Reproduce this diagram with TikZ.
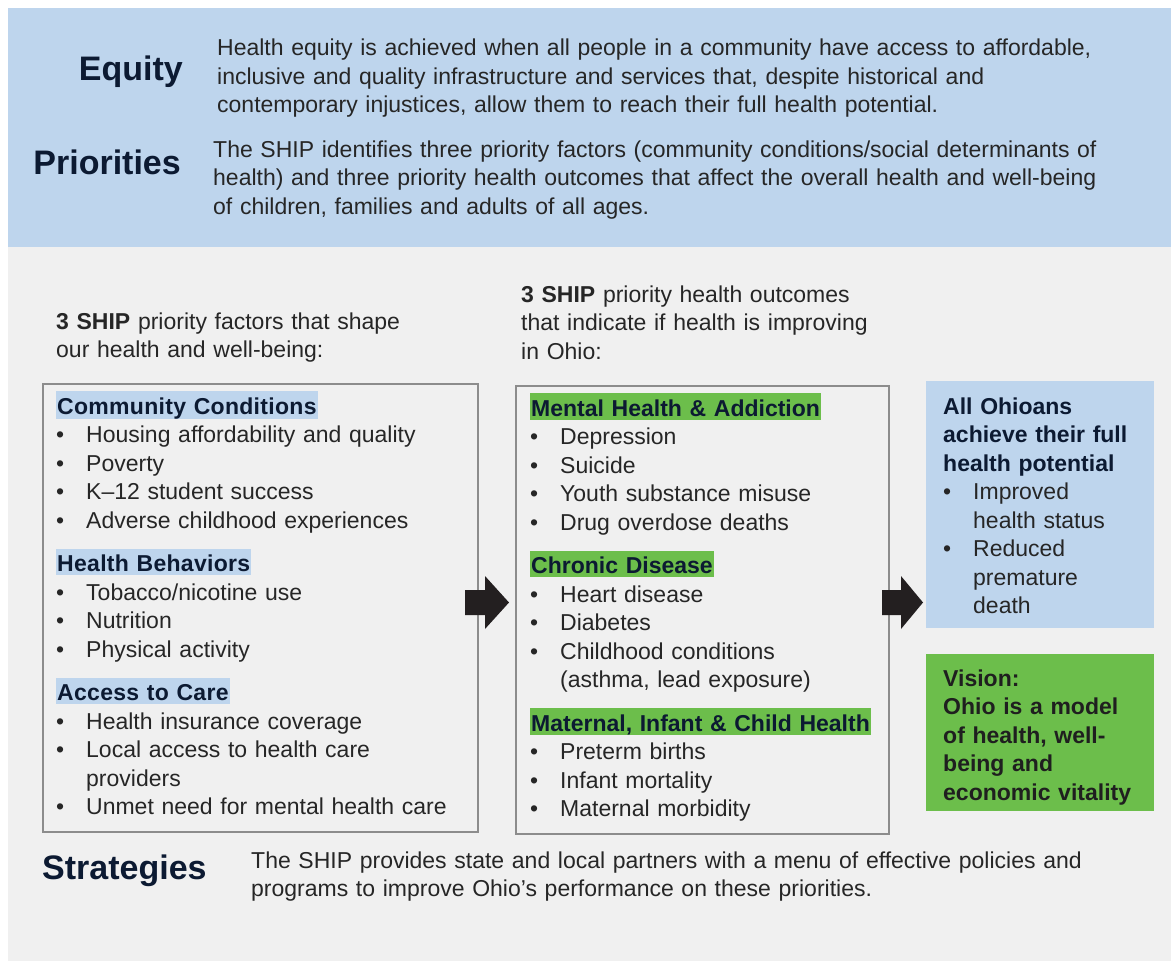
\documentclass[tikz,border=0pt]{standalone}
\usepackage{fontspec}
\setmainfont{Liberation Sans}
\usetikzlibrary{positioning}
\definecolor{bandblue}{RGB}{190,213,237}
\definecolor{panelgray}{RGB}{240,240,240}
\definecolor{leafgreen}{RGB}{108,190,75}
\definecolor{navy}{RGB}{12,26,50}
\definecolor{inkgray}{RGB}{38,38,38}
\definecolor{rulegray}{RGB}{140,140,140}
\definecolor{arrowink}{RGB}{35,31,32}
\newcommand{\bluetag}[1]{{\setlength{\fboxsep}{0pt}\colorbox{bandblue}{\rule[-3.5pt]{0pt}{26.5pt}\hspace{1pt}\textcolor{navy}{\bfseries\addfontfeature{LetterSpace=1.3}#1}\hspace{1pt}}}}
\newcommand{\greentag}[1]{{\setlength{\fboxsep}{0pt}\colorbox{leafgreen}{\rule[-3.5pt]{0pt}{26.5pt}\hspace{1pt}\textcolor{navy}{\bfseries #1}\hspace{1pt}}}}
\newcommand{\bitem}{\makebox[30pt][l]{\textbullet}}
\begin{document}
\begin{tikzpicture}[x=1pt, y=-1pt,
  body/.style={font=\fontsize{23}{28.5}\selectfont, text=inkgray, inner sep=0pt, align=left, text width=#1, anchor=base west},
  body/.default=940pt,
  heading/.style={font=\fontsize{34}{40}\selectfont\bfseries, text=navy, inner sep=0pt},
  frame/.style={draw=rulegray, line width=1.5pt, inner sep=0pt, anchor=north west},
  panel/.style={inner sep=0pt, anchor=north west}]
  \useasboundingbox[fill=white] (0,0) rectangle (1171,961);
  \fill[bandblue] (8,8) rectangle (1171,247);
  \fill[panelgray] (8,247) rectangle (1171,961);

  \node[heading, anchor=base east] (equity) at (183,80) {Equity};
  \node[body] (equitytext) at (217,56) {Health equity is achieved when all people in a community have access to affordable,\\ inclusive and quality infrastructure and services that, despite historical and\\ contemporary injustices, allow them to reach their full health potential.};
  \node[heading, anchor=base east] (priorities) at (181,174) {Priorities};
  \node[body] (prioritytext) at (213,157) {The SHIP identifies three priority factors (community conditions/social determinants of\\ health) and three priority health outcomes that affect the overall health and well-being\\ of children, families and adults of all ages.};

  \node[body=420pt] (factorsintro) at (56,329) {\textbf{3 SHIP} priority factors that shape\\ our health and well-being:};
  \node[body=380pt] (outcomesintro) at (521,302) {\textbf{3 SHIP} priority health outcomes\\ that indicate if health is improving\\ in Ohio:};

  \node[frame, minimum width=435pt, minimum height=448pt] (factors) at (42,383) {};
  \node[frame, minimum width=373pt, minimum height=448pt] (outcomes) at (515,385) {};
  \node[panel, fill=bandblue, minimum width=228pt, minimum height=247pt] (goal) at (926,381) {};
  \node[panel, fill=leafgreen, minimum width=228pt, minimum height=157pt] (vision) at (926,654) {};

  \node[body=420pt] (factorlist) at (56,414) {\bluetag{Community Conditions}\\
    \bitem Housing affordability and quality\\
    \bitem Poverty\\
    \bitem K–12 student success\\
    \bitem Adverse childhood experiences\\[15pt]
    \bluetag{Health Behaviors}\\
    \bitem Tobacco/nicotine use\\
    \bitem Nutrition\\
    \bitem Physical activity\\[15pt]
    \bluetag{Access to Care}\\
    \bitem Health insurance coverage\\
    \bitem Local access to health care\\
    \hspace*{30pt}providers\\
    \bitem Unmet need for mental health care};

  \node[body=356pt] (outcomelist) at (530,416) {\greentag{Mental Health \& Addiction}\\
    \bitem Depression\\
    \bitem Suicide\\
    \bitem Youth substance misuse\\
    \bitem Drug overdose deaths\\[15pt]
    \greentag{Chronic Disease}\\
    \bitem Heart disease\\
    \bitem Diabetes\\
    \bitem Childhood conditions\\
    \hspace*{30pt}(asthma, lead exposure)\\[15pt]
    \greentag{Maternal, Infant \& Child Health}\\
    \bitem Preterm births\\
    \bitem Infant mortality\\
    \bitem Maternal morbidity};

  \node[body=205pt] (goaltext) at (943,414) {\textcolor{navy}{\bfseries All Ohioans}\\
    \textcolor{navy}{\bfseries achieve their full}\\
    \textcolor{navy}{\bfseries health potential}\\
    \bitem Improved\\
    \hspace*{30pt}health status\\
    \bitem Reduced\\
    \hspace*{30pt}premature\\
    \hspace*{30pt}death};
  \node[body=205pt, text=black!88, font=\fontsize{23}{28.5}\selectfont\bfseries] (visiontext) at (943,686) {Vision:\\ Ohio is a model\\ of health, well-\\ being and\\ economic vitality};

  \coordinate (go1) at (465,602.5);
  \coordinate (go2) at (882,602.5);
  \fill[arrowink] (go1) ++(0,-12.5) -- ++(20,0) -- ++(0,-14) -- ++(24,26.5) -- ++(-24,26.5) -- ++(0,-14) -- ++(-20,0) -- cycle;
  \fill[arrowink] (go2) ++(0,-12.5) -- ++(19,0) -- ++(0,-14) -- ++(22,26.5) -- ++(-22,26.5) -- ++(0,-14) -- ++(-19,0) -- cycle;

  \node[heading, anchor=base west] (strategies) at (42,879) {Strategies};
  \node[body] (strategytext) at (251,868) {The SHIP provides state and local partners with a menu of effective policies and\\ programs to improve Ohio’s performance on these priorities.};
\end{tikzpicture}
\end{document}
